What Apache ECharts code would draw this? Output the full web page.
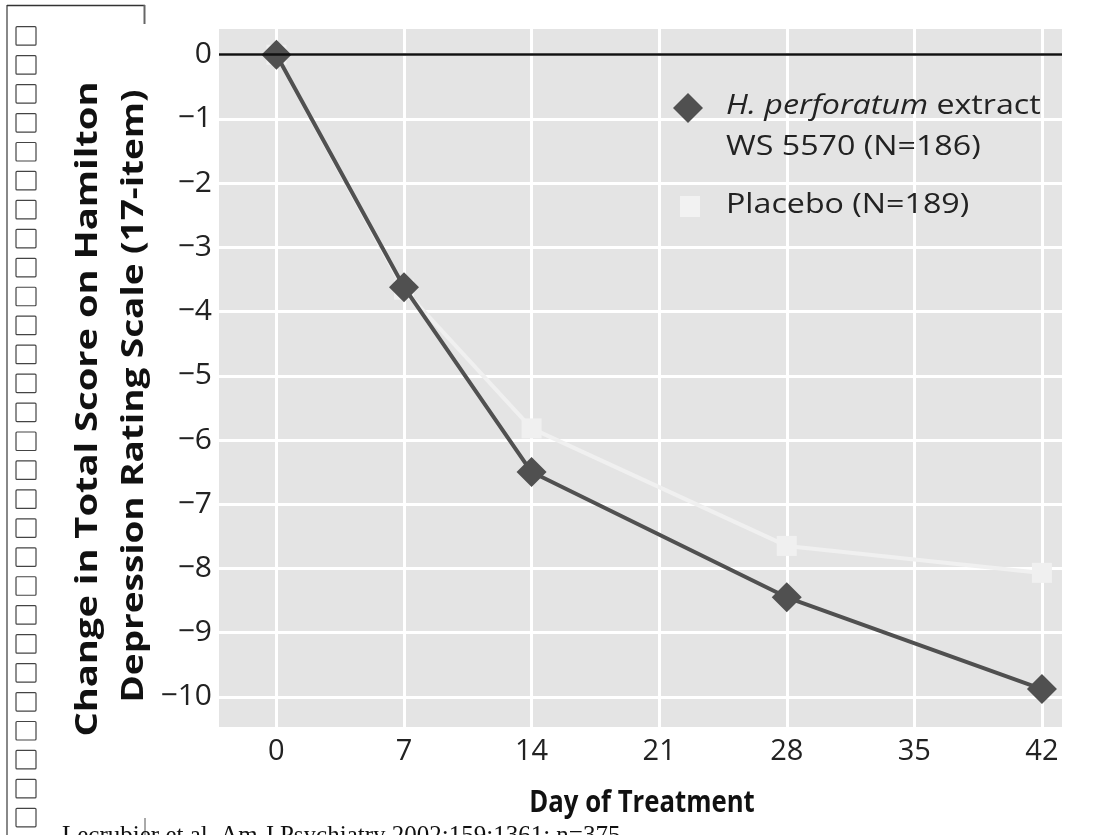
<!DOCTYPE html>
<html>
<head>
<meta charset="utf-8">
<script src="https://cdn.jsdelivr.net/npm/echarts@6/dist/echarts.min.js"></script>
<style>
  html, body { margin: 0; padding: 0; background: #fff; }
  #chart { width: 1102px; height: 835px; }
</style>
</head>
<body>
<div id="chart"></div>
<script>
const days = [0, 7, 14, 28, 42];
const hypericum = [0, -3.62, -6.5, -8.45, -9.88];
const placebo = [0, -3.66, -5.82, -7.65, -8.07];
const xTicks = [0, 7, 14, 21, 28, 35, 42];
const yTicks = [0, -1, -2, -3, -4, -5, -6, -7, -8, -9, -10];

const FONT = "'Open Sans', 'Noto Sans', sans-serif";
const chart = echarts.init(document.getElementById("chart"));

const minus = (v) => (v < 0 ? "\u2212" + Math.abs(v) : String(v));

// left column of empty glyph boxes (missing-font artefacts in the source image)
const boxes = [];
for (let i = 0; i < 28; i++) {
  boxes.push({
    type: "rect",
    shape: { x: 16, y: 26.7 + i * 28.95, width: 20, height: 18.5, r: 1 },
    style: { fill: "none", stroke: "#444", lineWidth: 1.2 }
  });
}

chart.setOption({
  backgroundColor: "#fff",
  animation: false,
  grid: { left: 219, top: 29, width: 843, height: 698, show: true, backgroundColor: "#e4e4e4", borderWidth: 0 },
  xAxis: {
    type: "value",
    min: -3.15,
    max: 43.1,
    axisLine: { show: false },
    axisTick: { show: false, customValues: xTicks },
    axisLabel: { customValues: xTicks, color: "#222", fontFamily: FONT, fontSize: 29, margin: 10 },
    splitLine: { show: true, lineStyle: { color: "#fff", width: 3 } }
  },
  yAxis: {
    type: "value",
    min: -10.47,
    max: 0.4,
    axisLine: { show: false },
    axisTick: { show: false, customValues: yTicks },
    axisLabel: { customValues: yTicks, formatter: minus, color: "#222", fontFamily: FONT, fontSize: 30, margin: 7 },
    splitLine: { show: true, lineStyle: { color: "#fff", width: 3 } }
  },
  series: [
    {
      name: "Placebo (N=189)",
      type: "line",
      data: days.map((d, i) => [d, placebo[i]]),
      symbol: "rect",
      symbolSize: 20,
      lineStyle: { color: "#f0f0f0", width: 4 },
      itemStyle: { color: "#f0f0f0" },
      markLine: {
        silent: true,
        symbol: "none",
        label: { show: false },
        lineStyle: { color: "#111", width: 2.5, type: "solid" },
        data: [{ yAxis: 0 }]
      },
      z: 2
    },
    {
      name: "H. perforatum extract WS 5570 (N=186)",
      type: "line",
      data: days.map((d, i) => [d, hypericum[i]]),
      symbol: "diamond",
      symbolSize: 30,
      lineStyle: { color: "#505050", width: 4 },
      itemStyle: { color: "#505050" },
      z: 3
    }
  ],
  graphic: [
    ...boxes,
    { type: "line", shape: { x1: 7, y1: 5, x2: 7, y2: 835 }, style: { stroke: "#888", lineWidth: 2 } },
    { type: "line", shape: { x1: 7, y1: 5.5, x2: 145, y2: 5.5 }, style: { stroke: "#333", lineWidth: 1.5 } },
    { type: "line", shape: { x1: 144.5, y1: 5, x2: 144.5, y2: 24 }, style: { stroke: "#666", lineWidth: 2 } },
    { type: "line", shape: { x1: 145, y1: 818, x2: 145, y2: 835 }, style: { stroke: "#555", lineWidth: 1 } },
    {
      type: "text", x: 88, y: 409, rotation: Math.PI / 2, scaleX: 1.27,
      style: { text: "Change in Total Score on Hamilton", fontFamily: FONT, fontWeight: "bold", fontSize: 30, fill: "#111", align: "center", verticalAlign: "middle" }
    },
    {
      type: "text", x: 134, y: 396, rotation: Math.PI / 2, scaleX: 1.23,
      style: { text: "Depression Rating Scale (17-item)", fontFamily: FONT, fontWeight: "bold", fontSize: 30, fill: "#111", align: "center", verticalAlign: "middle" }
    },
    {
      type: "text", x: 642, y: 803, scaleX: 0.83,
      style: { text: "Day of Treatment", fontFamily: FONT, fontWeight: "bold", fontSize: 31, fill: "#111", align: "center", verticalAlign: "middle" }
    },
    {
      type: "text", x: 62, y: 836,
      style: { text: "Lecrubier et al. Am J Psychiatry 2002;159:1361; n=375", fontFamily: "'Liberation Serif', 'Times New Roman', serif", fontSize: 25, fill: "#111", align: "left", verticalAlign: "middle" }
    },
    // legend
    {
      type: "polygon", z: 100, shape: { points: [[688, 93], [703, 108], [688, 123], [673, 108]] },
      style: { fill: "#505050" }
    },
    {
      type: "text", z: 100, x: 726, y: 106, scaleX: 1.15,
      style: {
        text: "{i|H. perforatum} extract",
        rich: { i: { fontStyle: "italic", fontFamily: FONT, fontSize: 28, fill: "#222" } },
        fontFamily: FONT, fontSize: 28, fill: "#222", align: "left", verticalAlign: "middle"
      }
    },
    {
      type: "text", z: 100, x: 726, y: 147, scaleX: 1.15,
      style: { text: "WS 5570 (N=186)", fontFamily: FONT, fontSize: 28, fill: "#222", align: "left", verticalAlign: "middle" }
    },
    { type: "rect", z: 100, shape: { x: 680, y: 196, width: 20, height: 21 }, style: { fill: "#f2f2f2" } },
    {
      type: "text", z: 100, x: 726, y: 205, scaleX: 1.15,
      style: { text: "Placebo (N=189)", fontFamily: FONT, fontSize: 28, fill: "#222", align: "left", verticalAlign: "middle" }
    }
  ]
});

window.addEventListener("resize", () => chart.resize());
</script>
</body>
</html>
